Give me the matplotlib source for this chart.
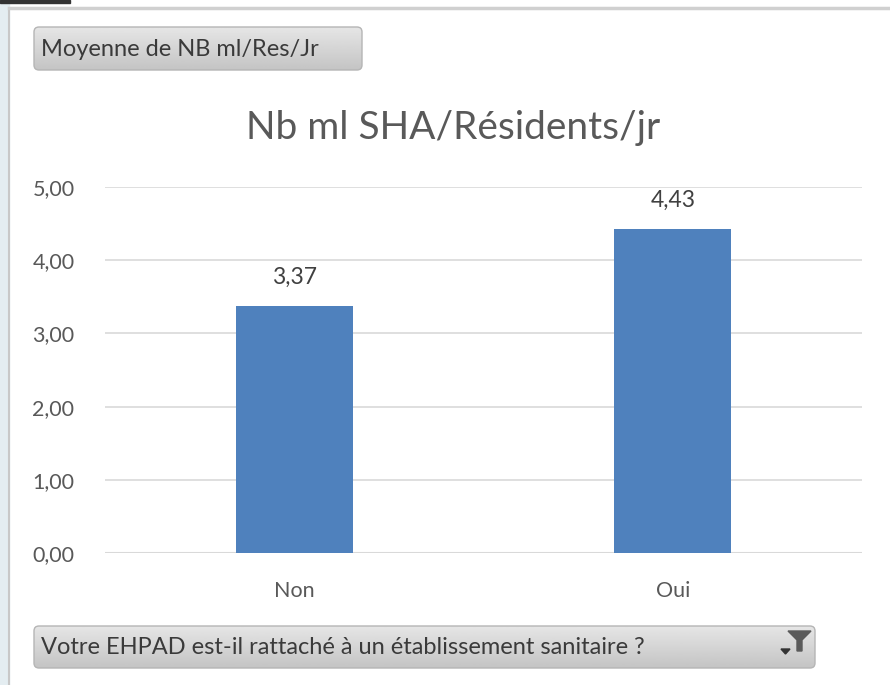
import numpy as np
import matplotlib.pyplot as plt
from matplotlib.patches import FancyBboxPatch, Rectangle, Polygon

categories = ['Non', 'Oui']
values = [3.37, 4.43]
yticks = [0, 1, 2, 3, 4, 5]
title = 'Nb ml SHA/Résidents/jr'
field_label = 'Moyenne de NB ml/Res/Jr'
axis_field = 'Votre EHPAD est-il rattaché à un établissement sanitaire ?'

W, H = 890, 685
plt.rcParams['font.family'] = ['Lato', 'DejaVu Sans']
fig = plt.figure(figsize=(W / 100, H / 100), dpi=100)

# cadre (coordonnées en pixels)
bg = fig.add_axes([0, 0, 1, 1])
bg.set_xlim(0, W)
bg.set_ylim(H, 0)
bg.axis('off')
bg.add_patch(Rectangle((0, 0), 9, H, color='#e4edf1', zorder=0))
bg.plot([9, 9], [8, H], color='#c8c8c8', lw=1.5)
bg.plot([9, W], [8, 8], color='#d0d0d0', lw=2.5)
bg.add_patch(Rectangle((0, 0), 70, 3, color='#333333'))


def button(x0, y0, x1, y1, text):
    grad = np.linspace(0.90, 0.77, 50).reshape(-1, 1)
    img = bg.imshow(grad, cmap='gray', vmin=0, vmax=1, aspect='auto',
                    extent=[x0, x1, y1, y0], origin='upper', zorder=2)
    box = FancyBboxPatch((x0, y0), x1 - x0, y1 - y0,
                         boxstyle='round,pad=0,rounding_size=5',
                         fc='none', ec='#b5b5b5', lw=1, zorder=3)
    bg.add_patch(box)
    img.set_clip_path(box)
    bg.text(x0 + 7, (y0 + y1) / 2 + 1, text, fontsize=17, color='#3a3a3a',
            va='center', ha='left', zorder=4)


button(34, 27, 362, 70, field_label)
button(34, 626, 815, 668, axis_field)
bg.set_xlim(0, W)
bg.set_ylim(H, 0)
# icône filtre
bg.add_patch(Polygon([[788, 631], [811, 631], [802, 640], [802, 651],
                      [797, 651], [797, 640]], color='#5a5a5a', zorder=5))
bg.add_patch(Polygon([[781, 649], [790, 649], [785.5, 654]], color='#333333', zorder=5))

ax = fig.add_axes([105 / W, 1 - 553 / H, (862 - 105) / W, (553 - 187) / H])
ax.patch.set_alpha(0)
x = np.arange(len(categories))
ax.bar(x, values, width=0.31, color='#4f81bd', zorder=3)
ax.set_xlim(-0.5, 1.5)
ax.set_ylim(0, 5)
ax.set_yticks(yticks)
ax.set_yticklabels([f'{v:.2f}'.replace('.', ',') for v in yticks])
ax.set_xticks(x)
ax.set_xticklabels(categories)
for s in ax.spines.values():
    s.set_visible(False)
ax.grid(axis='y', color='#d9d9d9', lw=1.2, zorder=0)
ax.axhline(0, color='#d9d9d9', lw=1.5, zorder=2)
ax.tick_params(length=0, labelsize=15.5, colors='#595959')
ax.tick_params(axis='x', pad=20)
ax.tick_params(axis='y', pad=22)
for xi, v in zip(x, values):
    ax.annotate(f'{v:.2f}'.replace('.', ','), (xi, v), xytext=(0, 13),
                textcoords='offset points', ha='center', va='bottom',
                fontsize=16.5, color='#404040')
fig.text(453 / W, 1 - 128 / H, title, fontsize=28, color='#595959',
         ha='center', va='center')

fig.savefig('out.png', dpi=100)
